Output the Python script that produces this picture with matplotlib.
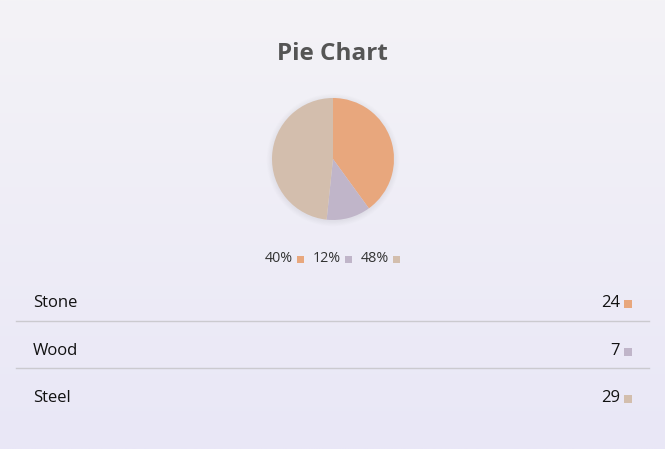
import numpy as np
import matplotlib
matplotlib.use("Agg")
import matplotlib.pyplot as plt
from matplotlib.patches import Circle, Rectangle

categories = ["Stone", "Wood", "Steel"]
values = [24, 7, 29]
colors = ["#E8A77D", "#C0B5C9", "#D3BEAD"]
title = "Pie Chart"

W, H = 665, 449
fig = plt.figure(figsize=(W / 100, H / 100), dpi=100)
ax = fig.add_axes([0, 0, 1, 1])
ax.set_xlim(0, W)
ax.set_ylim(0, H)
ax.axis("off")

def Y(y):
    return H - y

# background gradient
top = np.array([0xF4, 0xF3, 0xF6]) / 255
bot = np.array([0xE9, 0xE7, 0xF7]) / 255
t = np.linspace(0, 1, 256)[:, None]
grad = top[None, :] * (1 - t) + bot[None, :] * t
ax.imshow(grad[:, None, :].repeat(2, axis=1), extent=[0, W, 0, H], aspect="auto", zorder=0)

font = "Open Sans"

ax.text(W / 2, Y(54), title, ha="center", va="center", fontsize=17.5, fontweight="bold",
        color="#555555", family=font, zorder=3)

# pie shadow
cx, cy, r = 333, Y(159), 61
for i in range(7):
    ax.add_patch(Circle((cx, cy - 1), r + 0.5 + i * 0.8, color="#000000", alpha=0.007, lw=0, zorder=1))

total = sum(values)
ax.pie(values, colors=colors, startangle=90, counterclock=False, center=(cx, cy), radius=r,
       wedgeprops=dict(linewidth=0), frame=True)
ax.set_xlim(0, W)
ax.set_ylim(0, H)
ax.axis("off")
ax.set_aspect("auto")

# legend
pcts = [f"{round(v / total * 100)}%" for v in values]
xs = [265, 313, 361]
for x, p, c in zip(xs, pcts, colors):
    ax.text(x, Y(259), p, ha="left", va="center", fontsize=10.3, color="#333333", family=font, zorder=3)
    ax.add_patch(Rectangle((x + 32, Y(263)), 7, 7, color=c, lw=0, zorder=3))

# rows
row_y = [303, 351, 398]
sep_y = [321, 368]
for i, (cat, v, c) in enumerate(zip(categories, values, colors)):
    y = row_y[i]
    ax.text(33, Y(y), cat, ha="left", va="center", fontsize=12, color="#111111", family=font, zorder=3)
    ax.text(620, Y(y), str(v), ha="right", va="center", fontsize=12, color="#111111", family=font, zorder=3)
    ax.add_patch(Rectangle((624, Y(y + 5)), 8, 8, color=c, lw=0, zorder=3))
for sy in sep_y:
    ax.plot([16, 649], [Y(sy), Y(sy)], color="#CBCACF", lw=1, zorder=2)

fig.savefig("out.png", dpi=100)
